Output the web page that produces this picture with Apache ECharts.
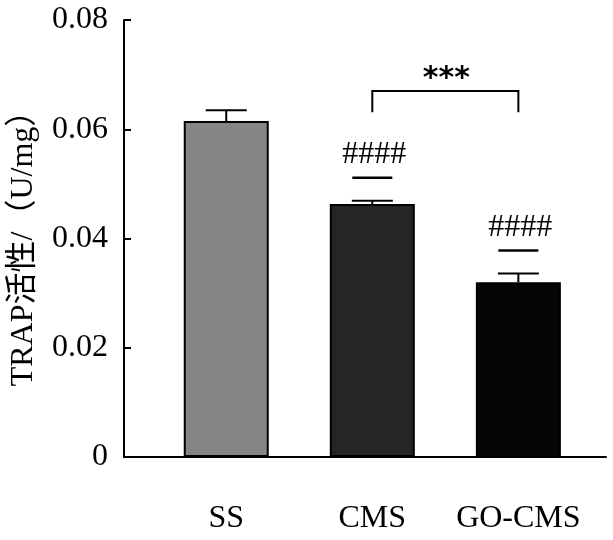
<!DOCTYPE html>
<html><head><meta charset="utf-8">
<script src="https://cdn.jsdelivr.net/npm/echarts@6/dist/echarts.min.js"></script>
<style>html,body{margin:0;padding:0;background:#fff}#c{width:613px;height:540px}</style>
</head><body><div id="c"></div>
<script>
const categories = ['SS', 'CMS', 'GO-CMS'];
const means = [0.0615, 0.0463, 0.0320];
const errors = [0.0020, 0.0006, 0.0016];
const barColors = ['#858585', '#252525', '#050505'];
const hashMarks = ['', '####', '####'];
const bracketPair = [1, 2];
const bracketLevel = 0.0670;
const bracketDrop = 0.0039;
const bracketLabel = '***';
const yAxisName = 'TRAP活性/（U/mg）';

const serif = "'Liberation Serif','Times New Roman','Noto Sans CJK SC',serif";
const chart = echarts.init(document.getElementById('c'), null, {renderer: 'canvas'});

const barData = means.map((v, i) => ({value: [i, v], itemStyle: {color: barColors[i]}}));
const errData = means.map((v, i) => [i, v, errors[i]]);
const annData = means.map((v, i) => [i, v + errors[i], hashMarks[i]]);

chart.setOption({
  animation: false,
  backgroundColor: '#fff',
  grid: {left: 124, right: 7, top: 20, bottom: 83, containLabel: false, outerBoundsMode: 'none'},
  xAxis: {
    type: 'value', min: -0.7, max: 2.6,
    splitLine: {show: false},
    axisTick: {show: false},
    axisLine: {show: true, onZero: false, lineStyle: {color: '#000', width: 2}},
    axisLabel: {
      customValues: [0, 1, 2],
      formatter: v => categories[Math.round(v)] || '',
      fontSize: 32, fontFamily: serif, color: '#000', margin: 46
    }
  },
  yAxis: {
    type: 'value', min: 0, max: 0.08, interval: 0.02,
    splitLine: {show: false},
    axisLine: {show: true, onZero: false, lineStyle: {color: '#000', width: 2}},
    axisTick: {show: true, inside: true, length: 7, lineStyle: {color: '#000', width: 2}},
    axisLabel: {
      formatter: v => v === 0 ? '0' : v.toFixed(2),
      fontSize: 32, fontFamily: serif, color: '#000', margin: 16
    },
    name: yAxisName, nameLocation: 'middle', nameGap: 84, nameRotate: 90,
    nameTextStyle: {fontSize: 32, fontFamily: serif, color: '#000', padding: [0, 4, 0, 0]}
  },
  series: [
    {
      type: 'bar', data: barData, barWidth: 85,
      itemStyle: {borderColor: '#000', borderWidth: 2},
      z: 2
    },
    {
      type: 'custom', data: errData, z: 3,
      renderItem: (params, api) => {
        const x = api.value(0), m = api.value(1), e = api.value(2);
        const base = api.coord([x, m]);
        const top = api.coord([x, m + e]);
        const half = 20.5;
        return {type: 'group', children: [
          {type: 'line', shape: {x1: base[0], y1: base[1], x2: top[0], y2: top[1]}, style: {stroke: '#000', lineWidth: 2}},
          {type: 'line', shape: {x1: top[0] - half, y1: top[1], x2: top[0] + half, y2: top[1]}, style: {stroke: '#000', lineWidth: 2}}
        ]};
      }
    },
    {
      type: 'custom', data: annData, z: 4,
      renderItem: (params, api) => {
        const i = params.dataIndex;
        const label = hashMarks[i];
        if (!label) return null;
        const top = api.coord([api.value(0), api.value(1)]);
        return {type: 'group', children: [
          {type: 'text', style: {text: label, x: top[0] + 2, y: top[1] - 46, align: 'center', verticalAlign: 'middle',
            font: '32px ' + serif, fill: '#000'}},
          {type: 'line', shape: {x1: top[0] - 20, y1: top[1] - 23, x2: top[0] + 20, y2: top[1] - 23}, style: {stroke: '#000', lineWidth: 2.5}}
        ]};
      }
    },
    {
      type: 'custom', data: [[bracketPair[0], bracketPair[1], bracketLevel]], z: 4,
      renderItem: (params, api) => {
        const a = api.coord([api.value(0), api.value(2)]);
        const b = api.coord([api.value(1), api.value(2)]);
        const a2 = api.coord([api.value(0), api.value(2) - bracketDrop]);
        return {type: 'group', children: [
          {type: 'polyline', shape: {points: [[a[0], a2[1]], a, b, [b[0], a2[1]]]}, style: {stroke: '#000', lineWidth: 2, fill: null}},
          {type: 'text', style: {text: bracketLabel, x: (a[0] + b[0]) / 2 + 1, y: a[1] - 12, align: 'center', verticalAlign: 'middle',
            font: 'bold 30px "DejaVu Sans", sans-serif', fill: '#000'}}
        ]};
      }
    }
  ]
});
</script>
</body></html>
